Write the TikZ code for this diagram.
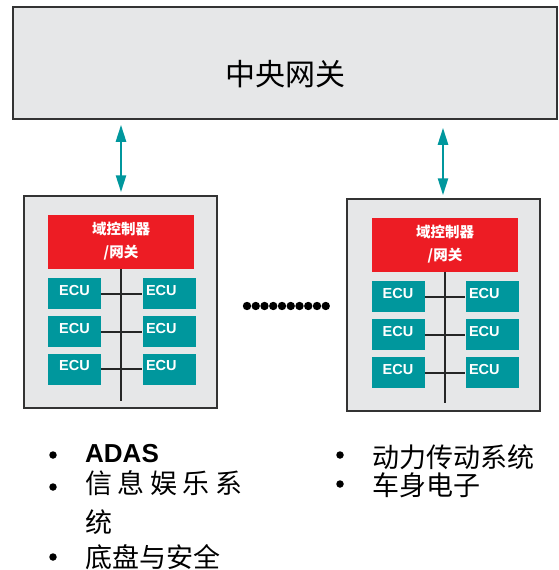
\documentclass[tikz,border=0pt]{standalone}
\usepackage{fontspec}
\setmainfont{Liberation Sans}
\newfontfamily\cjk{Noto Sans CJK SC}
\usetikzlibrary{arrows.meta}
\definecolor{gwgray}{HTML}{E6E7E8}
\definecolor{ecuteal}{HTML}{00979D}
\definecolor{ctrlred}{HTML}{ED1C24}
\definecolor{edge}{HTML}{333333}
\tikzstyle{box}=[draw=edge,line width=1.5pt,fill=gwgray,inner sep=0pt]
\tikzstyle{ctrl}=[fill=ctrlred,text=white,font=\cjk\bfseries\fontsize{14.5}{23}\selectfont,align=center,minimum width=146pt,minimum height=54pt,inner sep=0pt,text depth=4pt]
\tikzstyle{ecu}=[fill=ecuteal,text=white,font=\bfseries\fontsize{14.5}{17}\selectfont,minimum width=53pt,minimum height=31pt,text depth=7pt,inner sep=3pt]
\tikzstyle{ecur}=[ecu,text width=46pt,align=left]
\tikzstyle{bus}=[draw=black!85,line width=2pt]
\tikzstyle{link}=[draw=ecuteal,line width=2.5pt,<->,>={Triangle[width=10pt,length=17pt]}]
\tikzstyle{item}=[anchor=west,inner sep=0pt,font=\cjk\fontsize{27}{27}\selectfont]
\tikzstyle{bul}=[circle,fill=black,inner sep=0pt,minimum size=7.5pt]

\begin{document}
\begin{tikzpicture}[x=1pt,y=-1pt]
\useasboundingbox (0,0) rectangle (558,570);
% central gateway
\node[box,minimum width=544pt,minimum height=112pt,label={[yshift=-11pt,font=\cjk\fontsize{30}{30}\selectfont]center:中央网关}] (gw) at (285,63) {};
% left domain
\node[box,minimum width=193pt,minimum height=212pt] (domL) at (120.5,302) {};
\node[ctrl] (ctrlL) at (121,242) {域控制器\\/网关};
\node[ecu] (ecuLa1) at (74.5,293.5) {ECU}; \node[ecur] (ecuLb1) at (169,293.5) {ECU};
\node[ecu] (ecuLa2) at (74.5,331.5) {ECU}; \node[ecur] (ecuLb2) at (169,331.5) {ECU};
\node[ecu] (ecuLa3) at (74.5,369) {ECU}; \node[ecur] (ecuLb3) at (169,369) {ECU};
\coordinate (busL) at (ctrlL.south |- 0,401);
% right domain
\node[box,minimum width=193pt,minimum height=212pt] (domR) at (443.5,305) {};
\node[ctrl] (ctrlR) at (445,244.5) {域控制器\\/网关};
\node[ecu] (ecuRa1) at (398,296.5) {ECU}; \node[ecur] (ecuRb1) at (492,296.5) {ECU};
\node[ecu] (ecuRa2) at (398,334.5) {ECU}; \node[ecur] (ecuRb2) at (492,334.5) {ECU};
\node[ecu] (ecuRa3) at (398,372.5) {ECU}; \node[ecur] (ecuRb3) at (492,372.5) {ECU};
\coordinate (busR) at (ctrlR.south |- 0,403);
% buses
\draw[bus] (ctrlL.south) -- (busL);
\draw[bus] (ctrlR.south) -- (busR);
\foreach \s in {L,R}{
  \foreach \r in {1,2,3}{
    \draw[bus] (ecu\s a\r.east) -- (ecu\s b\r.west);
  }
}
% links to gateway
\draw[link,shorten <=5pt,shorten >=3pt] (ctrlL.north |- gw.south) -- (ctrlL.north |- domL.north);
\draw[link,shorten <=8pt,shorten >=3pt] (443,0 |- gw.south) -- (443,0 |- domR.north);
% more domains
\foreach \i in {0,...,9} \fill (247+8.75*\i,306) circle (4.2pt);
% domain functions
\node[bul] (b1) at (53,455) {}; \node[item,font=\bfseries\fontsize{26}{26}\selectfont] (t1) at (85,454) {ADAS};
\node[bul] (b2) at (53,487) {}; \node[item] (t2) at (85,483) {信\kern5.5pt 息\kern5.5pt 娱\kern5.5pt 乐\kern5.5pt 系};
\node[item] (t3) at (85,522) {统};
\node[bul] (b4) at (53,557) {}; \node[item] (t4) at (85,557) {底盘与安全};
\node[bul] (b5) at (340,455) {}; \node[item] (t5) at (372,457) {动力传动系统};
\node[bul] (b6) at (340,484) {}; \node[item] (t6) at (372,485) {车身电子};
\end{tikzpicture}
\end{document}
